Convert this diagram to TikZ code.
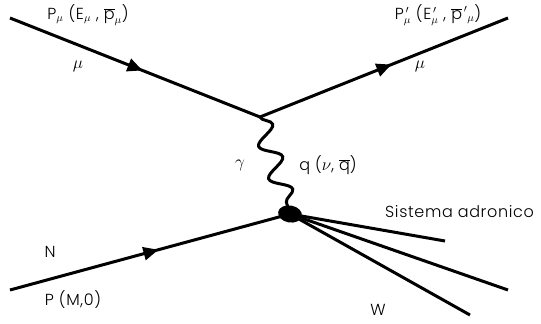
\documentclass[tikz,border=0pt]{standalone}
\usepackage{fontspec}
\setmainfont{Poppins}[UprightFont=* Light,LetterSpace=4]
\usetikzlibrary{decorations.markings,decorations.pathmorphing,arrows.meta,shapes.geometric}
\begin{document}
\begin{tikzpicture}[x=1pt,y=-1pt,
  fermion/.style={line width=3pt,postaction={decorate},
    decoration={markings,mark=at position 0.53 with {\arrow{Triangle[length=15pt,width=13pt]}}}},
  plain/.style={line width=3pt},
  photon/.style={line width=3pt,decorate,decoration={snake,segment length=34pt,amplitude=10pt}},
  lbl/.style={font=\fontsize{16}{18}\selectfont,inner sep=0pt},
  glbl/.style={font=\fontsize{19}{21}\selectfont,inner sep=0pt}]
\useasboundingbox (0,0) rectangle (541,324);
\coordinate (mi) at (10,18);
\coordinate (v) at (260,117);
\coordinate (mo) at (508,18);
\coordinate (ni) at (10,290);
\node[ellipse,fill=black,minimum width=24pt,minimum height=17pt,inner sep=0pt,rotate=-10] (b) at (290,214) {};
\coordinate (h1) at (445,241);
\coordinate (h2) at (508,290);
\coordinate (h3) at (470,315);
\draw[fermion] (mi) -- (v);
\draw[fermion] (v) -- (mo);
\draw[photon] (v) -- (b.center);
\draw[fermion] (ni) -- (b.center);
\draw[plain] (b.center) -- (h1);
\draw[plain] (b.center) -- (h2);
\draw[plain] (b.center) -- (h3);
\node[lbl] (l1) at (88,15) {P$_\mu$ (E$_\mu$ , $\overline{\mbox{p}}_\mu$)};
\node[glbl] (l2) at (78,66) {$\mu$};
\node[lbl] (l3) at (438,15) {P$_\mu^{\,\prime}$ (E$_\mu^{\,\prime}$ , $\overline{\mbox{p}}^{\,\prime}{}_\mu$)};
\node[glbl] (l4) at (420,66) {$\mu$};
\node[glbl] (l5) at (240,165) {$\gamma$};
\node[lbl] (l6) at (328,165) {q ($\nu$, $\overline{\mbox{q}}$)};
\node[lbl,anchor=west] (l7) at (385,212) {Sistema adronico};
\node[lbl] (l8) at (50,252) {N};
\node[lbl] (l9) at (73,300) {P (M,0)};
\node[lbl] (l10) at (378,310) {W};
\end{tikzpicture}
\end{document}
